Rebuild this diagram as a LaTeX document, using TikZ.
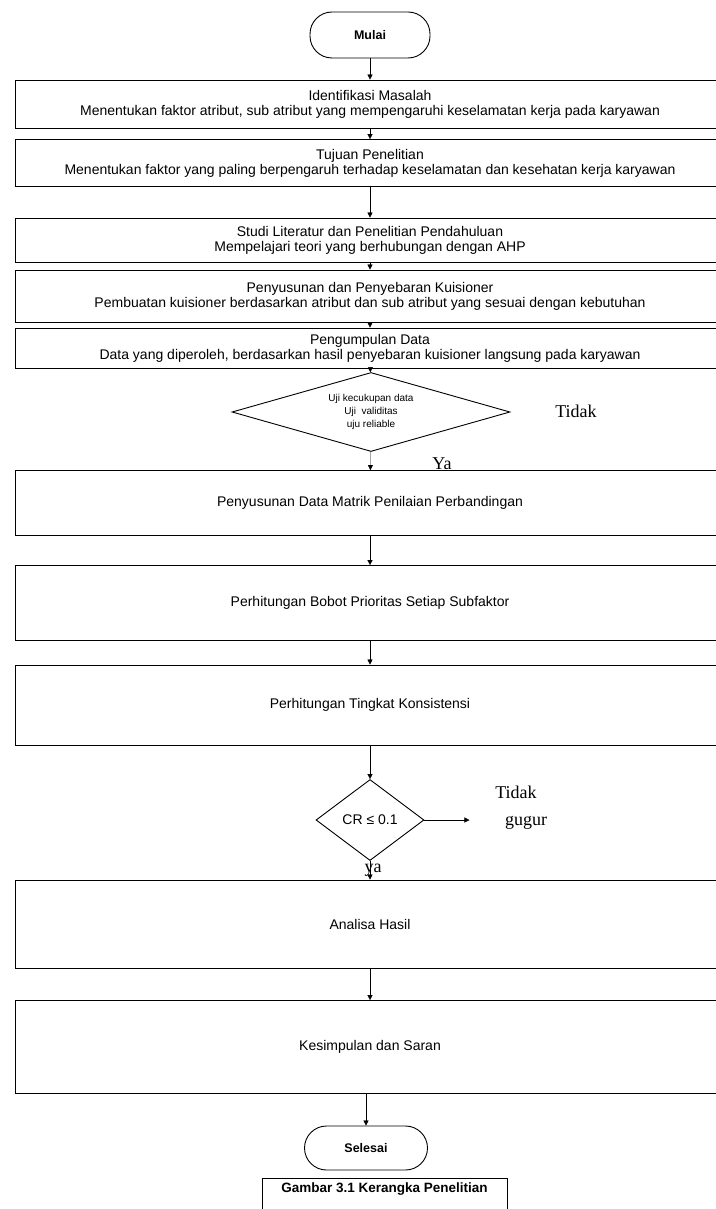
\documentclass[tikz,border=0pt]{standalone}
\usepackage{fontspec}
\setmainfont{Liberation Sans}
\newfontfamily\serifteks{Liberation Serif}
\usetikzlibrary{shapes.geometric,arrows.meta}

\begin{document}
\begin{tikzpicture}[x=1pt, y=-1pt,
    kotak/.style={draw, line width=0.9pt, minimum width=710pt, inner sep=2pt, align=center, font=\fontsize{14}{15}\selectfont},
    ujung/.style={draw, line width=0.9pt, rounded corners=22pt, minimum width=120pt, minimum height=46pt, font=\bfseries\fontsize{12.5}{14}\selectfont},
    cek/.style={draw, diamond, line width=0.9pt, inner sep=0pt, align=center},
    alur/.style={line width=0.3pt, -{Triangle[length=5pt,width=5pt]}},
    ket/.style={font=\serifteks\fontsize{18}{20}\selectfont}]
    \useasboundingbox (0,0) rectangle (715,1209);

    % langkah-langkah
    \node[ujung] (mulai) at (370,35) {Mulai};
    \node[kotak, minimum height=48pt] (idm) at (370,104) {Identifikasi Masalah\\Menentukan faktor atribut, sub atribut yang mempengaruhi keselamatan kerja pada karyawan};
    \node[kotak, minimum height=47pt] (tujuan) at (370,163) {Tujuan Penelitian\\Menentukan faktor yang paling berpengaruh terhadap keselamatan dan kesehatan kerja karyawan};
    \node[kotak, minimum height=44pt] (studi) at (370,240) {Studi Literatur dan Penelitian Pendahuluan\\Mempelajari teori yang berhubungan dengan AHP};
    \node[kotak, minimum height=52pt] (kuisioner) at (370,296) {Penyusunan dan Penyebaran Kuisioner\\Pembuatan kuisioner berdasarkan atribut dan sub atribut yang sesuai dengan kebutuhan};
    \node[kotak, minimum height=40pt] (kumpul) at (370,348) {Pengumpulan Data\\Data yang diperoleh, berdasarkan hasil penyebaran kuisioner langsung pada karyawan};
    \node[cek, aspect=3.5, minimum width=278pt, minimum height=79pt, font=\fontsize{10}{13}\selectfont] (uji) at (371,412) {Uji kecukupan data\\Uji~~validitas\\uju reliable};
    \node[kotak, minimum height=65pt] (matrik) at (370,503) {Penyusunan Data Matrik Penilaian Perbandingan};
    \node[kotak, minimum height=75pt] (bobot) at (370,603) {Perhitungan Bobot Prioritas Setiap Subfaktor};
    \node[kotak, minimum height=80pt] (konsisten) at (370,705) {Perhitungan Tingkat Konsistensi};
    \node[cek, aspect=1.3, minimum width=108pt, minimum height=81pt, font=\fontsize{14}{16}\selectfont] (cr) at (370,820) {CR ≤ 0.1};
    \node[kotak, minimum height=88pt] (analisa) at (370,924) {Analisa Hasil};
    \node[kotak, minimum height=93pt] (simpulan) at (370,1047) {Kesimpulan dan Saran};
    \node[ujung, minimum width=123pt, minimum height=44pt] (selesai) at (366,1148) {Selesai};
    \node[draw, line width=0.8pt, minimum width=245pt, text height=10pt, text depth=26pt, anchor=base, font=\bfseries\fontsize{13.5}{15}\selectfont] (judul) at (384.5,1192) {Gambar 3.1 Kerangka Penelitian};

    % keterangan
    \node[ket] (tidak1) at (576,411) {Tidak};
    \node[ket] (ya1) at (442,464) {Ya};
    \node[ket] (tidak2) at (516,792) {Tidak};
    \node[ket] (gugur) at (526,823) {gugur};
    \node[ket] (ya2) at (373,870) {ya};

    % alur
    \draw[alur] (mulai) -- (idm);
    \draw[alur] (idm) -- (tujuan);
    \draw[alur] (tujuan) -- (studi);
    \draw[alur] (studi) -- (kuisioner);
    \draw[alur] (kuisioner) -- (kumpul);
    \draw[alur] (kumpul) -- (uji);
    \draw[alur] (uji) -- (matrik);
    \draw[alur] (matrik) -- (bobot);
    \draw[alur] (bobot) -- (konsisten);
    \draw[alur] (konsisten) -- (cr);
    \draw[alur] (cr) -- (analisa);
    \draw[alur] (cr.east) -- (cr.east -| gugur.west) [shorten >=32pt];
    \draw[alur] (analisa) -- (simpulan);
    \draw[alur] (simpulan.south -| selesai) -- (selesai);
\end{tikzpicture}
\end{document}
